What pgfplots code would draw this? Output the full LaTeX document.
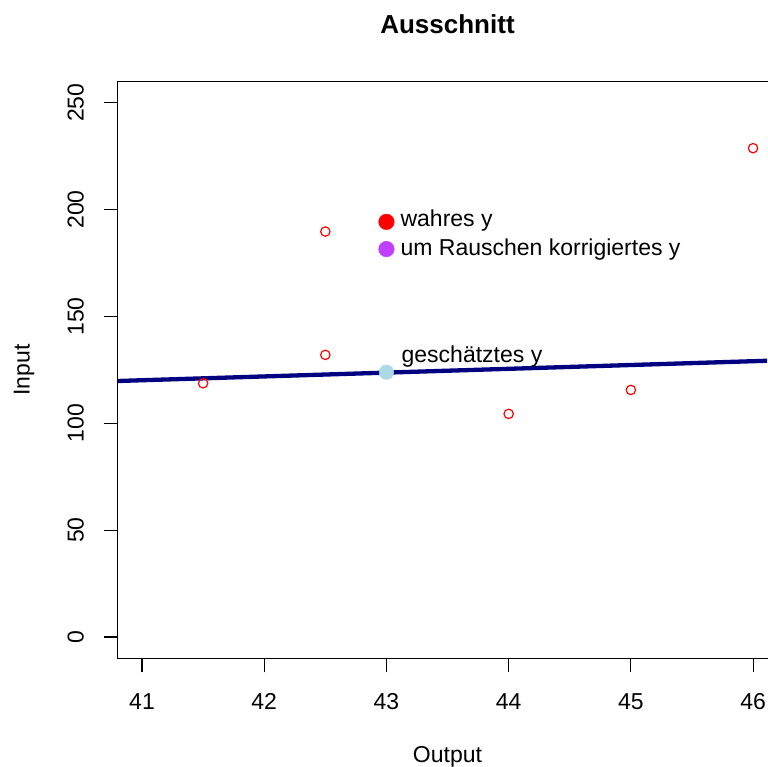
\documentclass[border=0pt]{standalone}
\usepackage{pgfplots}
\pgfplotsset{compat=1.18}
\usepackage{fontspec}
\setmainfont{Liberation Sans}
\definecolor{navyR}{HTML}{000080}
\definecolor{lightblueR}{HTML}{ADD8E6}
\definecolor{purpleR}{HTML}{BF3EFF}
\newcommand{\rf}{\fontsize{23}{27.6}\selectfont}
\begin{document}
\begin{tikzpicture}
\useasboundingbox (-117.6pt,-108.6pt) rectangle (649.4pt,658.4pt);
\begin{axis}[
  at={(0pt,0pt)}, anchor=south west,
  scale only axis, width=649.4pt, height=577.1pt,
  xmin=40.8, xmax=46.114, ymin=-10, ymax=260,
  xtick={41,42,43,44,45,46}, ytick={0,50,100,150,200,250},
  axis line style={draw=none},
  tick align=outside, major tick length=14pt,
  xtick pos=left, ytick pos=left,
  tick style={black, line width=1.1pt},
  /pgf/number format/assume math mode=true,
  tick label style={font=\rf},
  xticklabel style={anchor=base},
  xticklabel shift=36.6pt,
  yticklabel style={rotate=90, anchor=center},
  yticklabel shift=27.8pt,
  label style={font=\rf},
  xlabel={Output},
  xlabel style={at={(axis description cs:0.508,0)}, anchor=base, yshift=-104pt},
  ylabel={Input},
  ylabel style={at={([xshift=-88pt]axis description cs:0,0.5)}, anchor=base},
  title={Ausschnitt},
  title style={at={(axis description cs:0.508,1)}, anchor=base, yshift=41.3pt, font=\bfseries\fontsize{26}{31}\selectfont},
  legend style={draw=none, fill=none, inner sep=0pt, outer sep=0pt, font=\rf,
    at={(axis cs:43,192.6)}, anchor=north west, xshift=-8.54pt, yshift=14.5pt,
    row sep=7.3pt, nodes={inner ysep=0pt, text height=16pt, text depth=5pt}},
  legend cell align=left,
]
\addlegendimage{legend image code/.code={\fill[red] (0.3cm,-0.5pt) circle (7.8pt); \path[draw=none,fill=none] (0cm,0pt) rectangle (0.6cm+3.6pt,0pt);}}
\addlegendentry{wahres y}
\addlegendimage{legend image code/.code={\fill[purpleR] (0.3cm,0.6pt) circle (7.8pt); \path[draw=none,fill=none] (0cm,0pt) rectangle (0.6cm+3.6pt,0pt);}}
\addlegendentry{um Rauschen korrigiertes y}
\addplot[forget plot, navyR, line width=4.3pt] coordinates {(40.8,119.78) (46.2,129.40)};
\addplot[forget plot, only marks, mark=o, red, mark size=4.7pt, mark options={line width=1.2pt}]
  coordinates {(41.5,118.7) (42.5,132.0) (42.5,189.7) (44,104.4) (45,115.6) (46,228.7)};
\addplot[forget plot, only marks, mark=*, mark size=7.3pt, lightblueR, mark options={solid, draw=lightblueR, fill=lightblueR}]
  coordinates {(43,123.9)};
\node[anchor=base west, inner sep=0pt, font=\rf, xshift=15pt] at (axis cs:43,128.5) {geschätztes y};
\end{axis}
\draw[line width=1.2pt, line cap=rect] (652pt,0pt) -- (0pt,0pt) -- (0pt,577.1pt) -- (652pt,577.1pt);
\end{tikzpicture}
\end{document}
